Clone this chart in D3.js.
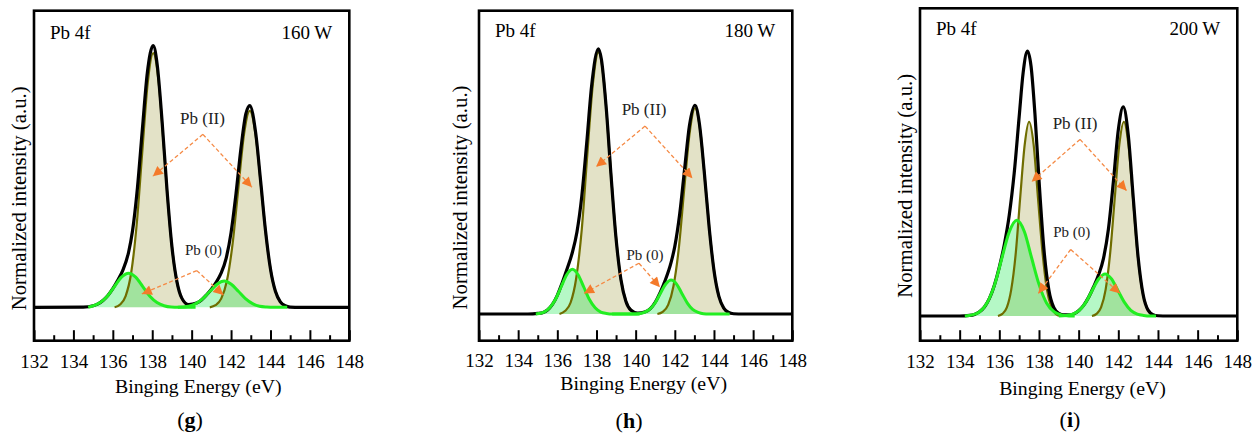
<!DOCTYPE html>
<html>
<head>
<meta charset="utf-8">
<script src="https://cdn.jsdelivr.net/npm/d3@7/dist/d3.min.js"></script>
<style>
  body { margin: 0; background: #fff; }
  svg text { font-family: "Liberation Serif", "Times New Roman", serif; fill: #000; }
</style>
</head>
<body>
<div class="chart"></div>
<script>
// x axis ticks (binding energy, eV)
var majorTicks = [132, 134, 136, 138, 140, 142, 144, 146, 148];
var minorTicks = [133, 135, 137, 139, 141, 143, 145, 147];

var powers = ["160 W", "180 W", "200 W"];
var panelLetters = ["g", "h", "i"];

// ---- 160 W : [energy, normalized intensity]
var pbII160a = [[136.09,0],[136.37,0.011],[136.65,0.043],[136.93,0.131],[137.21,0.315],[137.49,0.589],[137.77,0.856],[138.05,0.97],[138.33,0.856],[138.61,0.589],[138.89,0.315],[139.17,0.131],[139.45,0.043],[139.73,0.011],[140.01,0]];
var pbII160b = [[140.92,0],[141.21,0.008],[141.50,0.033],[141.79,0.101],[142.08,0.244],[142.37,0.455],[142.66,0.662],[142.95,0.75],[143.24,0.662],[143.53,0.455],[143.82,0.244],[144.11,0.101],[144.40,0.033],[144.69,0.008],[144.98,0]];
var pb0160a = [[134.75,0],[135.00,0.006],[135.36,0.018],[135.72,0.042],[136.08,0.079],[136.44,0.115],[136.80,0.13],[137.16,0.115],[137.52,0.079],[137.88,0.042],[138.24,0.018],[138.60,0.006],[138.96,0.001],[139.32,0],[140.2,0]];
var pb0160b = [[139.3,0],[139.49,0.001],[139.85,0.004],[140.21,0.014],[140.57,0.033],[140.93,0.061],[141.29,0.088],[141.65,0.10],[142.01,0.088],[142.37,0.061],[142.73,0.033],[143.09,0.014],[143.45,0.004],[143.81,0.001],[144.17,0],[144.85,0]];
var env160 = [[132,0],[134.5,0.001],[135,0.006],[135.25,0.013],[135.5,0.026],[135.75,0.045],[136,0.071],[136.25,0.103],[136.5,0.14],[136.8,0.21],[137,0.292],[137.25,0.457],[137.5,0.68],[137.75,0.894],[138.05,0.999],[138.25,0.927],[138.5,0.71],[138.75,0.447],[139,0.231],[139.25,0.099],[139.5,0.035],[139.85,0.01],[140.25,0.016],[140.5,0.028],[140.75,0.047],[141,0.069],[141.25,0.096],[141.5,0.131],[141.75,0.187],[142,0.285],[142.25,0.433],[142.5,0.605],[142.75,0.738],[142.95,0.77],[143.25,0.665],[143.5,0.482],[143.75,0.291],[144,0.146],[144.25,0.061],[144.5,0.021],[144.75,0.006],[145,0.001],[145.5,0],[148,0]];

// ---- 180 W
var pbII180a = [[136.11,0],[136.39,0.011],[136.68,0.043],[136.96,0.132],[137.25,0.318],[137.53,0.595],[137.82,0.864],[138.10,0.98],[138.39,0.864],[138.67,0.595],[138.96,0.318],[139.24,0.132],[139.53,0.043],[139.81,0.011],[140.10,0]];
var pbII180b = [[141.11,0],[141.38,0.008],[141.66,0.034],[141.93,0.104],[142.21,0.25],[142.48,0.467],[142.76,0.679],[143.03,0.77],[143.31,0.679],[143.58,0.467],[143.86,0.25],[144.13,0.104],[144.41,0.034],[144.68,0.008],[144.96,0]];
var pb0180a = [[134.9,0],[135.32,0.007],[135.61,0.023],[135.90,0.054],[136.19,0.101],[136.48,0.147],[136.77,0.167],[137.06,0.147],[137.35,0.101],[137.64,0.054],[137.93,0.023],[138.22,0.007],[138.51,0.002],[138.80,0],[140.2,0]];
var pb0180b = [[138.8,0],[139.89,0],[140.16,0.001],[140.44,0.006],[140.71,0.017],[140.99,0.041],[141.26,0.077],[141.54,0.112],[141.81,0.127],[142.09,0.112],[142.36,0.077],[142.64,0.041],[142.91,0.017],[143.19,0.006],[143.46,0.001],[143.74,0],[144.8,0]];
var env180 = [[132,0],[134.5,0],[135,0.002],[135.25,0.005],[135.5,0.015],[135.75,0.036],[136,0.07],[136.25,0.117],[136.5,0.169],[136.77,0.231],[137,0.306],[137.25,0.441],[137.5,0.639],[137.75,0.852],[138.1,0.992],[138.25,0.953],[138.5,0.768],[138.75,0.512],[139,0.282],[139.25,0.128],[139.5,0.048],[139.75,0.015],[140.1,0.003],[140.5,0.008],[140.75,0.02],[141,0.044],[141.25,0.08],[141.5,0.124],[141.81,0.193],[142,0.253],[142.25,0.374],[142.5,0.542],[142.75,0.706],[143.03,0.781],[143.25,0.715],[143.5,0.535],[143.75,0.327],[144,0.163],[144.25,0.066],[144.5,0.022],[144.75,0.006],[145,0.001],[145.5,0],[148,0]];

// ---- 200 W
var pbII200a = [[135.93,0],[136.15,0.008],[136.38,0.032],[136.60,0.099],[136.83,0.237],[137.05,0.443],[137.28,0.644],[137.50,0.73],[137.73,0.644],[137.95,0.443],[138.18,0.237],[138.40,0.099],[138.63,0.032],[138.85,0.008],[139.08,0]];
var pbII200b = [[140.67,0],[140.90,0.008],[141.13,0.032],[141.36,0.099],[141.59,0.237],[141.82,0.443],[142.05,0.644],[142.28,0.73],[142.51,0.644],[142.74,0.443],[142.97,0.237],[143.20,0.099],[143.43,0.032],[143.66,0.008],[143.89,0]];
var pb0200a = [[134.26,0],[134.63,0.004],[135.01,0.016],[135.38,0.049],[135.76,0.117],[136.13,0.218],[136.51,0.318],[136.88,0.36],[137.26,0.318],[137.63,0.218],[138.01,0.117],[138.38,0.049],[138.76,0.016],[139.13,0.004],[139.51,0],[139.8,0]];
var pb0200b = [[139.0,0],[139.38,0.002],[139.70,0.007],[140.03,0.021],[140.36,0.051],[140.68,0.096],[141.01,0.139],[141.33,0.158],[141.66,0.139],[141.98,0.096],[142.31,0.051],[142.63,0.021],[142.96,0.007],[143.28,0.002],[143.61,0],[143.9,0]];
var env200 = [[132,0],[134,0],[134.5,0.002],[134.75,0.006],[135,0.016],[135.25,0.034],[135.5,0.066],[135.75,0.116],[136,0.184],[136.25,0.268],[136.5,0.379],[136.75,0.537],[137,0.749],[137.2,0.914],[137.42,0.996],[137.6,0.939],[137.8,0.755],[138,0.512],[138.25,0.25],[138.5,0.097],[138.75,0.031],[139,0.01],[139.25,0.004],[139.5,0.004],[139.75,0.008],[140,0.02],[140.25,0.04],[140.5,0.07],[140.75,0.109],[141,0.154],[141.25,0.216],[141.5,0.326],[141.75,0.504],[142,0.7],[142.25,0.786],[142.5,0.682],[142.75,0.448],[143,0.22],[143.25,0.081],[143.5,0.022],[143.75,0.005],[144,0.001],[144.5,0],[148,0]];

// annotations: [text, energy, intensity] and arrows [fromE, fromI, toE, toI]
var labels160 = [["Pb (II)", 140.55, 0.721], ["Pb (0)", 140.6, 0.219]];
var arrows160 = [[140.57,0.66,138.03,0.50],[140.57,0.66,143.06,0.458],[140.26,0.14,137.47,0.051],[140.26,0.14,141.61,0.047]];
var labels180 = [["Pb (II)", 140.43, 0.766], ["Pb (0)", 140.48, 0.223]];
var arrows180 = [[140.48,0.703,137.98,0.551],[140.48,0.703,142.9,0.508],[140.17,0.19,137.36,0.077],[140.17,0.19,141.24,0.1]];
var labels200 = [["Pb (II)", 139.82, 0.727], ["Pb (0)", 139.65, 0.317]];
var arrows200 = [[140.07,0.664,137.63,0.505],[140.07,0.664,142.42,0.471],[139.6,0.25,137.97,0.085],[139.6,0.25,142.09,0.085]];

var Chart = (function() {
  var width = 1259, height = 436;

  // frame placement of each panel
  var layouts = [
    { left: 34,  right: 349.3,  top: 10.7, bottom: 340.7, yMin: -0.1275, yMax: 1.132, tickY: 27.6, titleX: 198.3, titleY: 393, yLabX: 26,    yLabY: 198.3, subX: 190,    subY: 427, tagY: 39.3 },
    { left: 479, right: 792.3,  top: 10.7, bottom: 340.7, yMin: -0.0999, yMax: 1.1347, tickY: 26, titleX: 643.7, titleY: 390, yLabX: 467.3, yLabY: 197.5, subX: 629,    subY: 428, tagY: 37 },
    { left: 920, right: 1237.3, top: 8.3,  bottom: 340.7, yMin: -0.0929, yMax: 1.157, tickY: 27.6, titleX: 1082.5, titleY: 395, yLabX: 911.7, yLabY: 185.8, subX: 1070, subY: 427, tagY: 35 }
  ];

  var panels = [
    { pbII: [pbII160a, pbII160b], pb0: [pb0160a, pb0160b], env: env160, labels: labels160, arrows: arrows160 },
    { pbII: [pbII180a, pbII180b], pb0: [pb0180a, pb0180b], env: env180, labels: labels180, arrows: arrows180 },
    { pbII: [pbII200a, pbII200b], pb0: [pb0200a, pb0200b], env: env200, labels: labels200, arrows: arrows200 }
  ];

  var svg = d3.select(".chart").append("svg")
    .attr("width", width)
    .attr("height", height);

  svg.append("defs").append("marker")
    .attr("id", "head")
    .attr("markerUnits", "userSpaceOnUse")
    .attr("viewBox", "0 0 10 10")
    .attr("refX", 10).attr("refY", 5)
    .attr("markerWidth", 11).attr("markerHeight", 10)
    .attr("orient", "auto")
    .append("path")
      .attr("d", "M0,0 L10,5 L0,10 Z")
      .attr("fill", "#f47a2a");

  function drawPanel(p, i) {
    var L = layouts[i];
    var g = svg.append("g");

    var x = d3.scaleLinear().domain([132, 148]).range([L.left, L.right]);
    var y = d3.scaleLinear().domain([L.yMin, L.yMax]).range([L.bottom, L.top]);

    var line = d3.line()
      .x(function(d) { return x(d[0]); })
      .y(function(d) { return y(d[1]); })
      .curve(d3.curveMonotoneX);
    var area = d3.area()
      .x(function(d) { return x(d[0]); })
      .y0(y(0))
      .y1(function(d) { return y(d[1]); })
      .curve(d3.curveMonotoneX);

    g.selectAll(".olive-fill").data(p.pbII).enter().append("path")
      .attr("d", area)
      .attr("fill", "#807d00").attr("fill-opacity", 0.22);
    g.selectAll(".green-fill").data(p.pb0).enter().append("path")
      .attr("d", area)
      .attr("fill", "#00e63c").attr("fill-opacity", 0.29);
    g.selectAll(".olive-line").data(p.pbII).enter().append("path")
      .attr("d", line)
      .attr("fill", "none").attr("stroke", "#6f6d00").attr("stroke-width", 2.2);
    g.append("path")
      .attr("d", line(p.env))
      .attr("fill", "none").attr("stroke", "#000").attr("stroke-width", 3.2)
      .attr("stroke-linejoin", "round");
    g.selectAll(".green-line").data(p.pb0).enter().append("path")
      .attr("d", line)
      .attr("fill", "none").attr("stroke", "#22ee22").attr("stroke-width", 3)
      .attr("stroke-linejoin", "round");

    // annotations
    g.selectAll(".arrow").data(p.arrows).enter().append("line")
      .attr("x1", function(d) { return x(d[0]); })
      .attr("y1", function(d) { return y(d[1]); })
      .attr("x2", function(d) { return x(d[2]); })
      .attr("y2", function(d) { return y(d[3]); })
      .attr("stroke", "#f58a45").attr("stroke-width", 1.3)
      .attr("stroke-dasharray", "4,2.5")
      .attr("marker-end", "url(#head)");
    g.selectAll(".ann").data(p.labels).enter().append("text")
      .attr("x", function(d) { return x(d[1]); })
      .attr("y", function(d) { return y(d[2]); })
      .attr("dy", "0.35em")
      .attr("text-anchor", "middle")
      .style("font-size", function(d, j) { return j === 0 ? "17px" : "15px"; })
      .style("fill", "#222")
      .text(function(d) { return d[0]; });

    // ticks
    var major = g.append("g")
      .attr("transform", "translate(0," + L.bottom + ")")
      .call(d3.axisBottom(x).tickValues(majorTicks).tickSize(-10.5).tickFormat(d3.format("d")));
    var minor = g.append("g")
      .attr("transform", "translate(0," + L.bottom + ")")
      .call(d3.axisBottom(x).tickValues(minorTicks).tickSize(-5.5).tickFormat(""));
    [major, minor].forEach(function(a) {
      a.select(".domain").remove();
      a.selectAll("line").attr("stroke", "#000").attr("stroke-width", 2);
    });
    major.selectAll("text")
      .attr("y", L.tickY).attr("dy", null)
      .style("font-size", "19px")
      .attr("font-family", null);

    g.append("rect")
      .attr("x", L.left).attr("y", L.top)
      .attr("width", L.right - L.left).attr("height", L.bottom - L.top)
      .attr("fill", "none").attr("stroke", "#000").attr("stroke-width", 2.6);

    g.append("text")
      .attr("x", L.left + 16).attr("y", L.tagY)
      .style("font-size", "19px")
      .text("Pb 4f");
    g.append("text")
      .attr("x", L.right - 17).attr("y", L.tagY)
      .attr("text-anchor", "end")
      .style("font-size", "19px")
      .text(powers[i]);

    g.append("text")
      .attr("x", L.titleX).attr("y", L.titleY)
      .attr("text-anchor", "middle")
      .style("font-size", "19.8px")
      .text("Binging Energy (eV)");
    g.append("text")
      .attr("transform", "translate(" + L.yLabX + "," + L.yLabY + ") rotate(-90)")
      .attr("text-anchor", "middle")
      .style("font-size", "20.8px")
      .text("Normalized intensity (a.u.)");

    var sub = g.append("text")
      .attr("x", L.subX).attr("y", L.subY)
      .attr("text-anchor", "middle")
      .style("font-size", "22px");
    sub.append("tspan").text("(");
    sub.append("tspan").style("font-weight", "bold").text(panelLetters[i]);
    sub.append("tspan").text(")");
  }

  return {
    draw: function() { panels.forEach(drawPanel); }
  };
})();

Chart.draw();
</script>
</body>
</html>
